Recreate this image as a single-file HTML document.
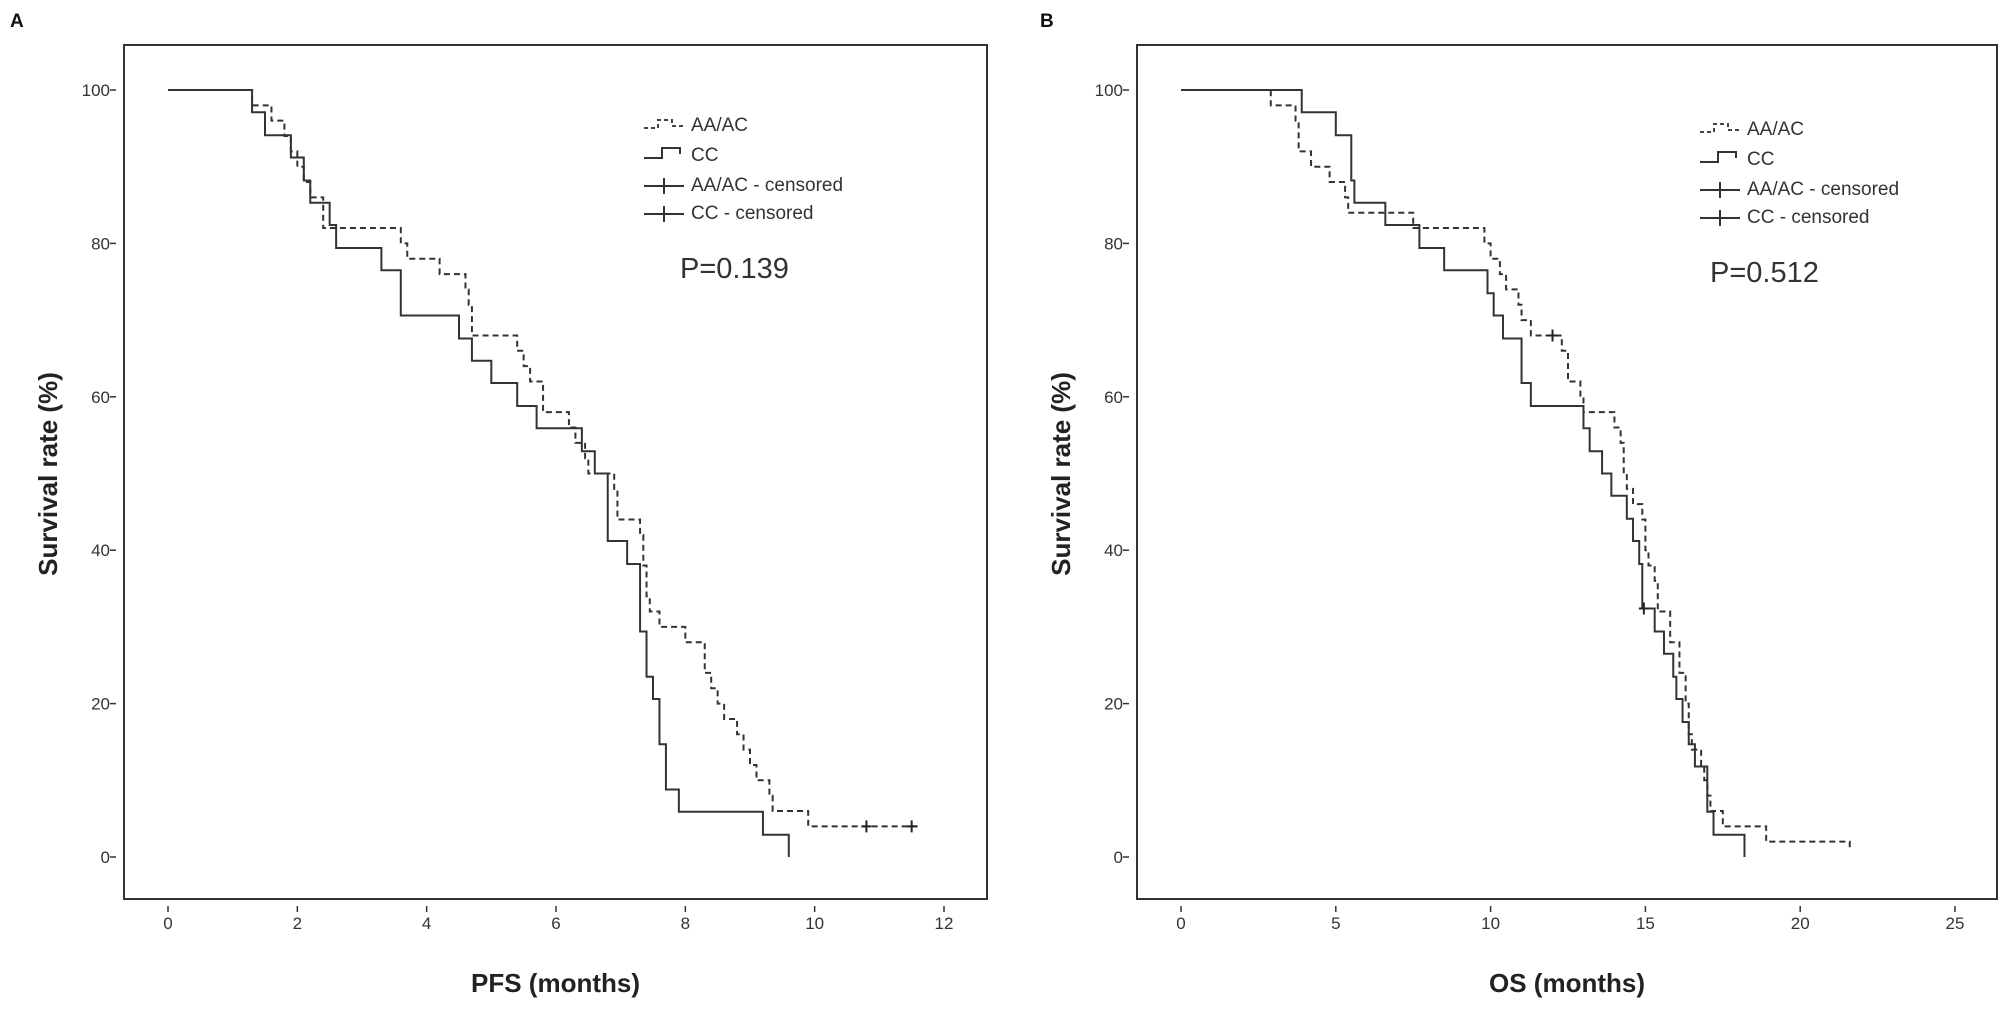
<!DOCTYPE html>
<html><head><meta charset="utf-8"><style>
html,body{margin:0;padding:0;background:#fff;}
svg{display:block;font-family:"Liberation Sans",Arial,sans-serif;}
</style></head><body>
<svg id="chart" width="2003" height="1019" viewBox="0 0 2003 1019"></svg>
<script>
// ---- Panel A (PFS) data ----
const pfsAATimes = [1.3,1.6,1.8,1.9,2.0,2.1,2.2,2.4,3.6,3.7,4.2,4.6,4.65,4.7,5.4,5.5,5.6,5.8,6.2,6.3,6.45,6.5,6.9,6.95,7.3,7.35,7.4,7.45,7.6,8.0,8.3,8.4,8.5,8.6,8.8,8.9,9.0,9.1,9.3,9.35,9.9];
const pfsAASurv  = [98,96,94,92,90,88,86,82,80,78,76,74,72,68,66,64,62,58,56,54,52,50,48,44,42,38,34,32,30,28,24,22,20,18,16,14,12,10,8,6,4];
const pfsAAEnd = 11.6;
const pfsAACensor = [10.8,11.5];
const pfsCCTimes = [1.3,1.5,1.9,2.1,2.2,2.5,2.6,3.3,3.6,4.5,4.7,5.0,5.4,5.7,6.4,6.6,6.8,7.1,7.3,7.4,7.5,7.6,7.7,7.9,9.2,9.6];
const pfsCCSurv  = [97.1,94.1,91.2,88.2,85.3,82.4,79.4,76.5,70.6,67.6,64.7,61.8,58.8,55.9,52.9,50,41.2,38.2,29.4,23.5,20.6,14.7,8.8,5.9,2.9,0];
const pfsCCEnd = 9.6;
const pfsCCCensor = [];
const pfsXTicks = [0,2,4,6,8,10,12];
// ---- Panel B (OS) data ----
const osAATimes = [2.9,3.7,3.8,4.2,4.8,5.3,5.4,7.5,9.8,10.0,10.3,10.5,10.9,11.0,11.3,12.3,12.5,12.9,13.0,14.0,14.2,14.3,14.4,14.6,14.9,15.0,15.1,15.3,15.4,15.8,16.1,16.3,16.4,16.5,16.8,16.9,17.0,17.1,17.5,18.9,21.6];
const osAASurv  = [98,96,92,90,88,86,84,82,80,78,76,74,72,70,68,66,62,60,58,56,54,50,48,46,44,40,38,36,32,28,24,20,16,14,12,10,8,6,4,2,1];
const osAAEnd = 21.6;
const osAACensor = [12.0];
const osCCTimes = [3.9,5.0,5.5,5.6,6.6,7.7,8.5,9.9,10.1,10.4,11.0,11.3,13.0,13.2,13.6,13.9,14.4,14.6,14.8,14.9,15.3,15.6,15.9,16.0,16.2,16.4,16.6,17.0,17.2,18.2];
const osCCSurv  = [97.1,94.1,88.2,85.3,82.4,79.4,76.5,73.5,70.6,67.6,61.8,58.8,55.9,52.9,50,47.1,44.1,41.2,38.2,32.4,29.4,26.5,23.5,20.6,17.6,14.7,11.8,5.9,2.9,0];
const osCCEnd = 18.2;
const osCCCensor = [14.95];
const osXTicks = [0,5,10,15,20,25];
const yTicks = [0,20,40,60,80,100];

const NS='http://www.w3.org/2000/svg';
const svg=document.getElementById('chart');
function mk(tag,attrs,parent){const e=document.createElementNS(NS,tag);for(const k in attrs)e.setAttribute(k,attrs[k]);(parent||svg).appendChild(e);return e;}

function survAt(times,surv,t){let s=100;for(let i=0;i<times.length;i++){if(times[i]<=t)s=surv[i];}return s;}

function panel(cfg){
  const g=mk('g',{});
  
  
  const xs=v=>cfg.x0+(v-cfg.xmin)/(cfg.xmax-cfg.xmin)*(cfg.x1-cfg.x0);
  const ys=v=>857-(v/100)*(857-90);
  const frame=mk('rect',{x:cfg.bx0,y:45,width:cfg.bx1-cfg.bx0,height:899-45,fill:'none',stroke:'#333','stroke-width':2},g);
  
  
  yTicks.forEach(v=>{
    const t=mk('text',{x:cfg.bx0-14,y:ys(v)+6,'text-anchor':'end','font-size':17,fill:'#333'},g);
    t.textContent=v;
    
    
    mk('line',{x1:cfg.bx0-14,x2:cfg.bx0-8,y1:ys(v),y2:ys(v),stroke:'#333','stroke-width':1.5},g);
  });
  cfg.xticks.forEach(v=>{
    const t=mk('text',{x:xs(v),y:929,'text-anchor':'middle','font-size':17,fill:'#333'},g);
    t.textContent=v;
    
    
    mk('line',{x1:xs(v),x2:xs(v),y1:906,y2:912,stroke:'#333','stroke-width':1.5},g);
  });
  const xt=mk('text',{x:(cfg.bx0+cfg.bx1)/2,y:992,'text-anchor':'middle','font-size':26,'font-weight':'bold',fill:'#222'},g);
  xt.textContent=cfg.xtitle;
  
  
  const yt=mk('text',{x:0,y:0,'text-anchor':'middle','font-size':26,'font-weight':'bold',fill:'#222',transform:`translate(${cfg.bx0-67},474) rotate(-90)`},g);
  yt.textContent='Survival rate (%)';
  
  
  const pl=mk('text',{x:cfg.panelX,y:27,'font-size':19,'font-weight':'bold',fill:'#111'},g);
  pl.textContent=cfg.letter;
  
  

  function curve(times,surv,end,censor,dashed,nm){
    let d=`M${xs(0)},${ys(100)}`;
    times.forEach((t,i)=>{d+=` H${xs(t)} V${ys(surv[i])}`;});
    d+=` H${xs(end)}`;
    const p=mk('path',{d:d,fill:'none',stroke:'#333','stroke-width':2,'stroke-dasharray':dashed?'6,4':'none'},g);
    
    
    censor.forEach(c=>{
      const v=survAt(times,surv,c);
      const m=mk('path',{d:`M${xs(c)-5},${ys(v)} H${xs(c)+5} M${xs(c)},${ys(v)-6} V${ys(v)+6}`,stroke:'#222','stroke-width':2},g);
      
      
    });
  }
  curve(cfg.aaT,cfg.aaS,cfg.aaE,cfg.aaC,true,'aa-ac-curve');
  curve(cfg.ccT,cfg.ccS,cfg.ccE,cfg.ccC,false,'cc-curve');

  const lx=cfg.lx, ly=cfg.ly;
  const lg=mk('g',{},g);
  
  
  mk('path',{d:`M${lx},${ly+4} H${lx+14} V${ly-4} H${lx+28} V${ly+2} H${lx+40}`,fill:'none',stroke:'#444','stroke-width':2,'stroke-dasharray':'4,3'},lg);
  mk('path',{d:`M${lx},${ly+34} H${lx+18} V${ly+24} H${lx+36} V${ly+30}`,fill:'none',stroke:'#333','stroke-width':2},lg);
  mk('path',{d:`M${lx},${ly+62} H${lx+40} M${lx+20},${ly+54} V${ly+70}`,stroke:'#333','stroke-width':2},lg);
  mk('path',{d:`M${lx},${ly+90} H${lx+40} M${lx+20},${ly+82} V${ly+98}`,stroke:'#333','stroke-width':2},lg);
  ['AA/AC','CC','AA/AC - censored','CC - censored'].forEach((s,i)=>{
    const t=mk('text',{x:lx+47,y:ly+7+i*30-(i==3?2:0),'font-size':19,fill:'#333'},lg);
    t.textContent=s;
    
    
  });
  const pv=mk('text',{x:cfg.px,y:cfg.py,'font-size':29,fill:'#333'},g);
  pv.textContent=cfg.p;
  
  
}

panel({name:'panel-a-pfs',letter:'A',panelX:10,bx0:124,bx1:987,x0:168,x1:944,xmin:0,xmax:12,xticks:pfsXTicks,xtitle:'PFS (months)',
  aaT:pfsAATimes,aaS:pfsAASurv,aaE:pfsAAEnd,aaC:pfsAACensor,ccT:pfsCCTimes,ccS:pfsCCSurv,ccE:pfsCCEnd,ccC:pfsCCCensor,
  lx:644,ly:124,px:680,py:278,p:'P=0.139'});
panel({name:'panel-b-os',letter:'B',panelX:1040,bx0:1137,bx1:1997,x0:1181,x1:1955,xmin:0,xmax:25,xticks:osXTicks,xtitle:'OS (months)',
  aaT:osAATimes,aaS:osAASurv,aaE:osAAEnd,aaC:osAACensor,ccT:osCCTimes,ccS:osCCSurv,ccE:osCCEnd,ccC:osCCCensor,
  lx:1700,ly:128,px:1710,py:282,p:'P=0.512'});
</script>
</body></html>
